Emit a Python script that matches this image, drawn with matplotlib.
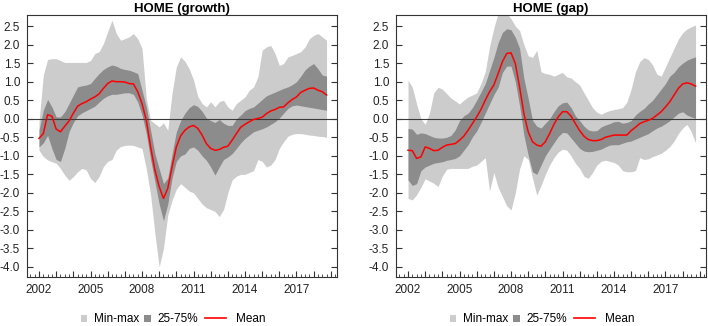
import numpy as np
import matplotlib
matplotlib.use('Agg')
import matplotlib.pyplot as plt
from matplotlib.patches import Patch
from matplotlib.lines import Line2D
from matplotlib.ticker import FixedLocator, MultipleLocator, FuncFormatter

plt.rcParams['font.family'] = ['Liberation Sans', 'DejaVu Sans']

# quarterly observations, 2002Q1 .. 2018Q4
quarters = np.arange(2002, 2019, 0.25)

growth_mean = [
    -0.53, -0.40, 0.11, 0.07,
    -0.28, -0.35, -0.20, -0.06,
    0.15, 0.34, 0.41, 0.46,
    0.53, 0.59, 0.67, 0.82,
    0.95, 1.02, 1.00, 1.00,
    0.99, 0.95, 0.94, 0.73,
    0.41, -0.04, -0.76, -1.38,
    -1.83, -2.15, -1.88, -1.30,
    -0.76, -0.46, -0.31, -0.22,
    -0.18, -0.26, -0.44, -0.67,
    -0.80, -0.85, -0.83, -0.77,
    -0.74, -0.58, -0.40, -0.23,
    -0.15, -0.08, -0.02, 0.01,
    0.04, 0.14, 0.21, 0.25,
    0.31, 0.32, 0.43, 0.52,
    0.59, 0.71, 0.77, 0.82,
    0.83, 0.77, 0.73, 0.64,
]
growth_q75 = [
    -0.30, 0.23, 0.52, 0.32,
    0.05, 0.05, 0.19, 0.41,
    0.64, 0.86, 0.89, 0.91,
    0.95, 1.09, 1.22, 1.33,
    1.40, 1.45, 1.42, 1.36,
    1.33, 1.31, 1.27, 1.22,
    0.77, 0.32, -0.31, -0.94,
    -1.35, -1.75, -1.60, -0.95,
    -0.35, -0.05, 0.15, 0.30,
    0.38, 0.33, 0.20, 0.02,
    -0.05, -0.10, -0.02, -0.12,
    -0.18, -0.18, 0.00, 0.10,
    0.22, 0.28, 0.32, 0.42,
    0.52, 0.62, 0.67, 0.72,
    0.77, 0.82, 0.86, 0.92,
    1.00, 1.15, 1.32, 1.42,
    1.49, 1.35, 1.18, 1.15,
]
growth_q25 = [
    -0.76, -0.65, -0.45, -0.80,
    -1.10, -1.15, -0.80, -0.35,
    -0.10, 0.08, 0.16, 0.22,
    0.28, 0.34, 0.45, 0.55,
    0.62, 0.66, 0.66, 0.68,
    0.70, 0.70, 0.66, 0.45,
    0.10, -0.40, -1.10, -1.70,
    -2.30, -2.75, -2.30, -1.60,
    -1.15, -1.00, -0.95, -0.80,
    -0.76, -0.85, -1.00, -1.12,
    -1.30, -1.52, -1.30, -1.10,
    -1.03, -0.94, -0.80, -0.65,
    -0.53, -0.44, -0.35, -0.31,
    -0.27, -0.22, -0.15, -0.08,
    0.02, 0.15, 0.28, 0.35,
    0.37, 0.35, 0.33, 0.31,
    0.29, 0.27, 0.25, 0.23,
]
growth_min = [
    -0.85, -1.02, -1.11, -1.16,
    -1.20, -1.34, -1.52, -1.66,
    -1.56, -1.43, -1.34, -1.38,
    -1.61, -1.72, -1.56, -1.29,
    -1.15, -1.10, -0.85, -0.75,
    -0.72, -0.71, -0.72, -0.76,
    -0.80, -1.35, -2.05, -3.09,
    -4.00, -3.50, -2.60, -2.20,
    -1.90, -1.75, -1.85, -1.95,
    -2.00, -2.15, -2.30, -2.40,
    -2.45, -2.50, -2.64, -2.45,
    -2.00, -1.65, -1.55, -1.50,
    -1.50, -1.45, -1.40, -1.10,
    -1.15, -1.30, -1.25, -1.10,
    -0.80, -0.62, -0.47, -0.42,
    -0.40, -0.40, -0.42, -0.44,
    -0.45, -0.47, -0.48, -0.50,
]
growth_max = [
    -0.08, 1.18, 1.60, 1.62,
    1.62, 1.57, 1.52, 1.52,
    1.52, 1.52, 1.52, 1.52,
    1.57, 1.76, 1.81, 2.03,
    2.35, 2.66, 2.30, 2.12,
    2.16, 2.21, 2.30, 2.16,
    1.90, 0.55, -0.04, -0.13,
    -0.22, -0.11, -0.31, 0.69,
    1.40, 1.67, 1.55, 1.35,
    1.05, 0.60, 0.41, 0.32,
    0.46, 0.32, 0.46, 0.50,
    0.32, 0.23, 0.41, 0.50,
    0.59, 0.77, 0.86, 1.13,
    1.85, 1.94, 1.98, 1.76,
    1.44, 1.49, 1.67, 1.71,
    1.76, 1.81, 1.94, 2.16,
    2.25, 2.30, 2.21, 2.12,
]

gap_mean = [
    -0.85, -0.86, -1.07, -1.03,
    -0.76, -0.80, -0.86, -0.85,
    -0.77, -0.71, -0.69, -0.67,
    -0.58, -0.47, -0.31, -0.13,
    0.05, 0.25, 0.50, 0.73,
    0.91, 1.22, 1.54, 1.76,
    1.78, 1.49, 0.86, 0.14,
    -0.35, -0.62, -0.71, -0.74,
    -0.62, -0.40, -0.15, 0.05,
    0.19, 0.19, 0.07, -0.13,
    -0.32, -0.47, -0.56, -0.59,
    -0.59, -0.56, -0.50, -0.47,
    -0.44, -0.44, -0.44, -0.44,
    -0.32, -0.23, -0.13, -0.08,
    -0.04, 0.01, 0.10, 0.19,
    0.32, 0.46, 0.64, 0.82,
    0.94, 0.97, 0.94, 0.88,
]
gap_q75 = [
    -0.26, -0.28, -0.42, -0.38,
    -0.40, -0.45, -0.50, -0.52,
    -0.52, -0.50, -0.45, -0.30,
    -0.05, 0.08, 0.15, 0.30,
    0.50, 0.72, 0.95, 1.30,
    1.65, 2.05, 2.33, 2.43,
    2.40, 2.20, 1.90, 1.09,
    0.55, -0.04, -0.20, -0.25,
    -0.12, 0.00, 0.19, 0.35,
    0.43, 0.45, 0.30, 0.08,
    -0.05, -0.20, -0.30, -0.33,
    -0.32, -0.22, -0.17, -0.13,
    -0.08, -0.07, -0.12, -0.10,
    -0.05, 0.10, 0.20, 0.28,
    0.40, 0.50, 0.65, 0.80,
    0.95, 1.15, 1.25, 1.40,
    1.50, 1.58, 1.63, 1.67,
]
gap_q25 = [
    -1.65, -1.80, -1.75, -1.40,
    -1.30, -1.25, -1.20, -1.18,
    -1.16, -1.12, -1.10, -1.07,
    -1.00, -0.85, -0.70, -0.49,
    -0.33, -0.10, 0.15, 0.40,
    0.65, 0.85, 1.25, 1.42,
    1.42, 1.00, 0.35, -0.44,
    -0.98, -1.43, -1.50, -1.25,
    -1.00, -0.82, -0.65, -0.48,
    -0.37, -0.38, -0.52, -0.66,
    -0.80, -0.87, -0.89, -0.88,
    -0.85, -0.82, -0.76, -0.71,
    -0.70, -0.70, -0.66, -0.62,
    -0.60, -0.55, -0.50, -0.45,
    -0.40, -0.32, -0.25, -0.20,
    -0.13, -0.05, 0.05, 0.15,
    0.19, 0.10, 0.05, 0.01,
]
gap_min = [
    -2.15, -2.19, -2.05, -1.85,
    -1.62, -1.68, -1.74, -1.83,
    -1.55, -1.36, -1.34, -1.34,
    -1.34, -1.34, -1.34, -1.28,
    -1.25, -1.15, -1.05, -1.95,
    -1.45, -1.85, -2.10, -2.35,
    -2.46, -2.00, -1.35, -1.00,
    -1.10, -1.60, -2.06, -1.80,
    -1.50, -1.25, -1.05, -0.90,
    -0.82, -0.85, -1.00, -1.20,
    -1.34, -1.55, -1.61, -1.45,
    -1.25, -1.15, -1.12, -1.15,
    -1.18, -1.25, -1.40, -1.43,
    -1.43, -1.40, -1.05, -1.10,
    -1.08, -1.02, -0.98, -0.93,
    -0.85, -0.75, -0.60, -0.40,
    -0.25, -0.15, -0.35, -0.65,
]
gap_max = [
    1.04, 0.85, 0.40, 0.00,
    -0.15, 0.15, 0.70, 0.85,
    0.80, 0.68, 0.56, 0.48,
    0.40, 0.50, 0.59, 0.64,
    0.70, 0.95, 1.27, 1.95,
    2.45, 2.85, 2.90, 2.85,
    2.70, 2.50, 2.38, 2.00,
    1.70, 1.65, 1.85, 1.27,
    1.22, 1.20, 1.15, 1.20,
    1.25, 1.13, 1.10, 1.00,
    0.91, 0.70, 0.50, 0.30,
    0.18, 0.12, 0.18, 0.22,
    0.25, 0.27, 0.30, 0.45,
    0.80, 1.27, 1.54, 1.65,
    1.60, 1.45, 1.20, 1.15,
    1.40, 1.65, 1.90, 2.15,
    2.32, 2.42, 2.48, 2.53,
]

yticks = [-4.0, -3.5, -3.0, -2.5, -2.0, -1.5, -1.0, -0.5, 0.0, 0.5, 1.0, 1.5, 2.0, 2.5]
year_ticks = list(range(2002, 2020))
labelled_years = [2002, 2005, 2008, 2011, 2014, 2017]

LIGHT = '#cccccc'
DARK = '#8c8c8c'
FRAME = '#333333'

W, H = 708, 326
fig = plt.figure(figsize=(W / 100, H / 100), dpi=100)


def year_label(v, pos):
    y = int(round(v))
    return str(y) if y in labelled_years else ''


def panel(left_px, title, lo, q25, mean, q75, hi):
    ax = fig.add_axes([left_px / W, 1 - 277 / H, 310 / W, 262 / H])
    ax.fill_between(quarters, lo, hi, color=LIGHT, lw=0)
    ax.fill_between(quarters, q25, q75, color=DARK, lw=0)
    ax.axhline(0, color='#3a3a3a', lw=0.8)
    ax.plot(quarters, mean, color='#ff0000', lw=1.1)

    ax.set_xlim(2001.30, 2019.36)
    ax.set_ylim(-4.27, 2.80)

    ax.yaxis.set_major_locator(FixedLocator(yticks))
    ax.yaxis.set_major_formatter(FuncFormatter(lambda v, p: '%.1f' % v))
    ax.xaxis.set_major_locator(FixedLocator(year_ticks))
    ax.xaxis.set_minor_locator(MultipleLocator(0.25))
    ax.xaxis.set_major_formatter(FuncFormatter(year_label))

    ax.tick_params(axis='y', direction='in', length=4, width=0.8, color=FRAME,
                   left=True, right=True, pad=5, labelsize=8.5, labelcolor='#222222')
    ax.tick_params(axis='x', which='major', direction='in', length=4, width=0.8,
                   color=FRAME, pad=5, labelsize=8.5, labelcolor='#222222')
    ax.tick_params(axis='x', which='minor', direction='in', length=2, width=0.6,
                   color=FRAME)
    for s in ax.spines.values():
        s.set_color(FRAME)
        s.set_linewidth(0.8)

    ax.set_title(title, fontsize=9.5, fontweight='bold', pad=2.5)

    # legend: two shaded boxes, then the mean line
    leg_y = 1 - 319.5 / H
    fig.legend([Patch(facecolor=LIGHT, edgecolor='none'), Patch(facecolor=DARK, edgecolor='none')],
               ['Min-max', '25-75%'], loc='center left',
               bbox_to_anchor=((left_px + 53.7) / W, leg_y), ncol=2, frameon=False,
               fontsize=8.5, handlelength=0.55, handleheight=0.55, handletextpad=0.56,
               columnspacing=0.45, borderpad=0, borderaxespad=0)
    fig.legend([Line2D([], [], color='#ff0000', lw=1.2)], ['Mean'], loc='center left',
               bbox_to_anchor=((left_px + 178) / W, leg_y), frameon=False,
               fontsize=8.5, handlelength=1.75, handletextpad=0.85,
               borderpad=0, borderaxespad=0)
    return ax


panel(27, 'HOME (growth)', growth_min, growth_q25, growth_mean, growth_q75, growth_max)
panel(396, 'HOME (gap)', gap_min, gap_q25, gap_mean, gap_q75, gap_max)

fig.savefig('out.png', dpi=100)
